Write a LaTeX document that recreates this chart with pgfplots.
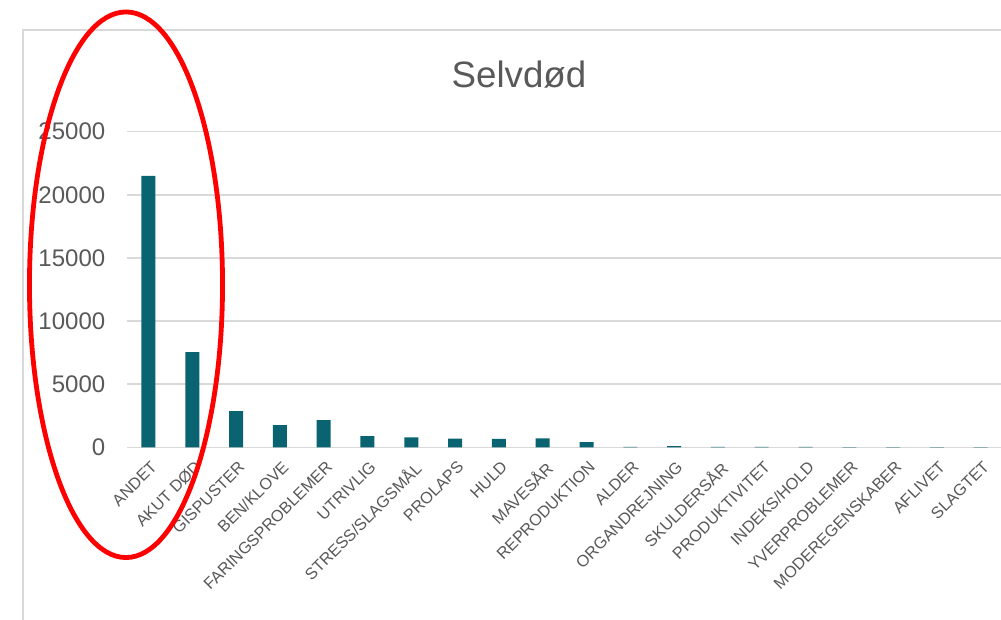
\documentclass[border=0pt]{standalone}
\usepackage{pgfplots}
\pgfplotsset{compat=1.18}
\usepackage{fontspec}
\setmainfont{Liberation Sans}
\definecolor{barc}{HTML}{0A6370}
\definecolor{txt}{HTML}{595959}
\definecolor{grd}{HTML}{D9D9D9}
\begin{document}
\begin{tikzpicture}[x=0.75pt,y=0.75pt]
\useasboundingbox (0,0) rectangle (1001,620);
\clip (0,0) rectangle (1001,620);
\fill[white] (0,0) rectangle (1001,620);
\draw[grd, line width=1.3pt] (23,-5) -- (23,590) -- (1010,590);
\begin{axis}[
  at={(94.95pt,129.5pt)}, anchor=south west,
  scale only axis, width=657pt, height=236.7pt,
  xmin=-0.5, xmax=19.5, ymin=0, ymax=25000,
  ytick={0,5000,10000,15000,20000,25000},
  xtick={0,...,19},
  xticklabels={ANDET,AKUT DØD,GISPUSTER,BEN/KLOVE,FARINGSPROBLEMER,UTRIVLIG,STRESS/SLAGSMÅL,PROLAPS,HULD,MAVESÅR,REPRODUKTION,ALDER,ORGANDREJNING,SKULDERSÅR,PRODUKTIVITET,INDEKS/HOLD,YVERPROBLEMER,MODEREGENSKABER,AFLIVET,SLAGTET},
  ymajorgrids, grid style={grd, line width=1.1pt},
  axis line style={draw=none}, major tick length=0pt,
  /pgf/number format/1000 sep={}, /pgf/number format/assume math mode=true,
  scaled y ticks=false,
  yticklabel style={font=\fontsize{18}{20}\selectfont, text=txt, xshift=-12.5pt},
  xticklabel style={font=\fontsize{12.2}{14}\selectfont, text=txt, rotate=45, anchor=north east, xshift=-2.5pt, yshift=-4pt},
  ybar, bar width=10.5pt,
]
\addplot[fill=barc, draw=none] coordinates {
 (0,21500) (1,7550) (2,2870) (3,1760) (4,2160) (5,890) (6,790) (7,680) (8,670) (9,710)
 (10,420) (11,40) (12,90) (13,40) (14,40) (15,30) (16,20) (17,20) (18,20) (19,15)
};
\end{axis}
\node[txt, font=\fontsize{27.5}{32}\selectfont] at (519,545) {Selvdød};
\draw[red, line width=3.6pt] (126,335.25) ellipse [x radius=72.4pt, y radius=204.6pt];
\end{tikzpicture}
\end{document}
